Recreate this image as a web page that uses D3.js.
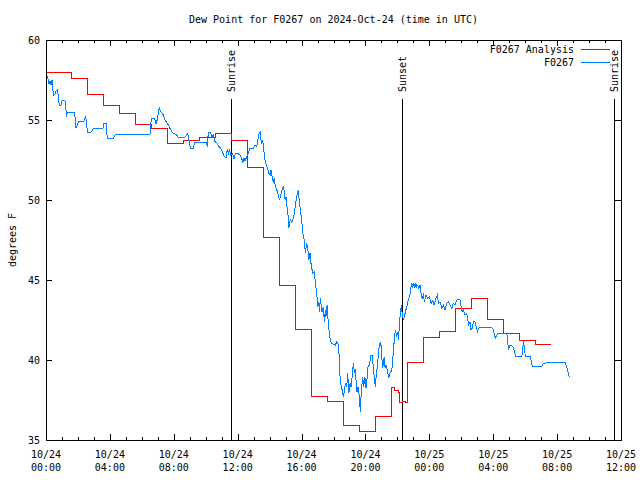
<!DOCTYPE html>
<meta charset="UTF-8">
<style>
body { margin: 0; background: #fff; }
text { font: 10px "DejaVu Sans Mono", monospace; fill: #000; }
.border { fill: none; stroke: #000; stroke-width: 1px; shape-rendering: crispEdges; }
.tick line { stroke: #000; shape-rendering: crispEdges; }
.domain { display: none; }
.obs { fill: none; stroke: #0080ff; stroke-width: 1px; shape-rendering: crispEdges; }
.ana { fill: none; stroke: #ff0000; stroke-width: 1px; shape-rendering: crispEdges; }
.sun { stroke: #000; stroke-width: 1px; shape-rendering: crispEdges; }
</style>
<body>
<script src="https://cdnjs.cloudflare.com/ajax/libs/d3/7.8.5/d3.min.js"></script>
<script>
// hours since 2024-10-24 00:00 UTC
const tickHours = [0, 4, 8, 12, 16, 20, 24, 28, 32, 36];
const tickDates = ["10/24", "10/24", "10/24", "10/24", "10/24", "10/24", "10/25", "10/25", "10/25", "10/25"];
const tickTimes = ["00:00", "04:00", "08:00", "12:00", "16:00", "20:00", "00:00", "04:00", "08:00", "12:00"];
const yTicks = [35, 40, 45, 50, 55, 60];

const sunHours = [11.57, 22.31, 35.59];
const sunLabels = ["Sunrise", "Sunset", "Sunrise"];

// analysis (hourly steps)
const anaHours = [0, 0.62, 1.62, 2.62, 3.62, 4.62, 5.62, 6.62, 7.62, 8.62, 9.62, 10.62, 11.62, 12.62,
  13.62, 14.62, 15.62, 16.62, 17.62, 18.62, 19.62, 20.62, 21.62, 21.8, 22.05, 22.15, 22.35, 22.5,
  22.62, 23.62, 24.62, 25.62, 26.62, 27.62, 28.62, 29.62, 30.62, 31.62];
const anaValues = [58.0, 57.95, 57.6, 56.6, 55.9, 55.4, 54.75, 54.5, 53.55, 53.75, 53.92, 54.17, 53.69, 52.02,
  47.67, 44.67, 41.88, 37.69, 37.38, 35.88, 35.54, 36.5, 38.29, 38.1, 37.95, 37.35, 37.42, 37.35,
  39.86, 41.42, 41.79, 43.23, 43.86, 42.56, 41.67, 41.19, 40.94, 40.94];

// station observations
const obsHours = [0.04, 0.13, 0.19, 0.25, 0.31, 0.38, 0.46, 0.56, 0.63, 0.71, 0.77, 0.83, 0.92, 1.0, 1.19,
  1.25, 1.30, 1.33, 1.80, 1.83, 1.88, 1.96, 2.02, 2.34, 2.42, 2.49, 2.55, 2.59, 2.80, 2.90, 2.96, 3.57,
  3.63, 3.76, 3.84, 4.21, 4.34, 6.51, 6.59, 6.81, 6.89, 6.97, 7.09, 7.18, 7.26, 7.35, 7.45, 7.56, 7.66,
  7.76, 7.87, 7.97, 8.18, 8.28, 8.70, 8.87, 8.97, 9.06, 9.22, 9.29, 10.06, 10.10, 10.16, 10.31, 10.39,
  10.48, 10.58, 10.69, 10.79, 10.94, 11.06, 11.15, 11.27, 11.35, 11.42, 11.48, 11.57, 11.69, 11.77,
  11.85, 12.04, 12.15, 12.25, 12.32, 12.40, 12.46, 12.57, 12.67, 12.77, 12.98, 13.09, 13.19, 13.26,
  13.34, 13.40, 13.44, 13.51, 13.57, 13.61, 13.65, 13.71, 13.82, 13.88, 13.95, 14.03, 14.09, 14.17,
  14.23, 14.30, 14.36, 14.45, 14.55, 14.61, 14.70, 14.78, 14.86, 14.92, 14.97, 15.03, 15.07, 15.14,
  15.20, 15.26, 15.32, 15.39, 15.49, 15.55, 15.64, 15.74, 15.80, 15.86, 15.95, 16.01, 16.07, 16.16,
  16.18, 16.24, 16.32, 16.39, 16.45, 16.53, 16.59, 16.66, 16.70, 16.80, 16.86, 16.95, 17.01, 17.08,
  17.11, 17.18, 17.24, 17.28, 17.36, 17.43, 17.49, 17.53, 17.60, 17.66, 17.72, 17.78, 17.85, 17.99,
  18.12, 18.20, 18.28, 18.33, 18.37, 18.41, 18.47, 18.54, 18.62, 18.68, 18.74, 18.83, 18.89, 18.96,
  19.04, 19.10, 19.16, 19.24, 19.31, 19.37, 19.41, 19.47, 19.54, 19.62, 19.68, 19.74, 19.83, 19.89,
  19.96, 20.04, 20.10, 20.16, 20.25, 20.35, 20.42, 20.50, 20.56, 20.62, 20.66, 20.75, 20.81, 20.87,
  20.96, 21.02, 21.08, 21.17, 21.23, 21.29, 21.37, 21.46, 21.54, 21.65, 21.71, 21.75, 21.81, 21.87,
  21.96, 22.02, 22.08, 22.12, 22.19, 22.25, 22.29, 22.37, 22.44, 22.50, 22.59, 22.65, 22.78, 22.84,
  22.90, 22.96, 23.03, 23.09, 23.15, 23.21, 23.28, 23.34, 23.42, 23.48, 23.55, 23.63, 23.69, 23.80,
  23.90, 24.00, 24.11, 24.22, 24.30, 24.42, 24.50, 24.57, 24.67, 24.78, 24.88, 24.98, 25.09, 25.19,
  25.30, 25.41, 25.50, 25.61, 25.72, 25.82, 25.92, 25.99, 26.05, 26.13, 26.24, 26.34, 26.41, 26.47,
  26.55, 26.61, 26.68, 26.76, 26.86, 26.93, 27.01, 27.10, 27.18, 27.91, 28.01, 28.07, 28.16, 28.22,
  28.32, 28.85, 28.91, 28.97, 29.01, 29.16, 29.26, 29.33, 29.39, 29.79, 29.85, 29.89, 29.95, 30.01,
  30.31, 30.37, 30.45, 31.04, 31.14, 31.67, 32.50, 32.56, 32.65, 32.71, 32.77];
const obsValues = [57.79, 57.54, 57.23, 57.44, 57.17, 57.5, 56.54, 56.61, 56.81, 56.88, 56.5, 55.88, 55.88, 56.19, 56.19,
  55.67, 55.21, 55.5, 55.5, 54.94, 54.52, 54.67, 54.88, 54.88, 55.04, 55.19, 54.79, 54.21, 54.21, 54.36, 54.5, 54.5,
  54.79, 54.79, 53.83, 53.83, 54.11, 54.11, 55.08, 55.08, 54.73, 55.04, 55.79, 55.52, 55.46, 55.31, 55.0, 54.83, 54.69,
  54.48, 54.27, 54.17, 54.06, 53.92, 53.92, 54.17, 53.58, 53.23, 53.23, 53.58, 53.58, 53.33, 54.21, 54.21, 53.96,
  54.06, 53.64, 53.58, 53.38, 53.23, 52.96, 52.75, 52.61, 53.17, 52.92, 53.13, 52.81, 52.88, 52.54,
  52.88, 52.88, 52.81, 52.61, 52.36, 52.61, 52.44, 52.71, 52.92, 53.23, 53.23, 53.44, 53.33, 53.75,
  54.17, 54.27, 53.86, 53.54, 53.69, 53.44, 53.02, 52.5, 52.08, 51.98, 51.67, 51.56, 51.88, 51.36,
  51.14, 51.36, 50.83, 50.63, 50.31, 50.0, 50.31, 50.63, 50.89, 50.52, 50.0, 50.21, 49.69, 49.27,
  48.23, 48.64, 48.75, 48.61, 48.86, 49.17, 49.89, 50.42, 50.63, 49.89, 49.17, 48.75, 48.02, 47.5,
  47.29, 46.67, 47.29, 46.98, 46.25, 46.67, 46.04, 45.63, 45.42, 45.52, 44.89, 44.17, 43.33, 43.64,
  43.02, 43.86, 43.33, 43.02, 43.33, 42.39, 43.13, 42.71, 43.44, 42.5, 41.88, 41.36, 41.08, 41.0,
  40.94, 41.14, 41.0, 40.83, 39.69, 38.96, 38.44, 38.13, 37.71, 38.02, 38.54, 38.33, 39.17, 37.92,
  38.54, 38.33, 38.86, 39.79, 39.27, 39.38, 38.75, 38.02, 38.33, 37.71, 36.77, 38.02, 38.96, 38.33,
  38.96, 38.23, 38.86, 39.58, 39.69, 40.31, 40.31, 39.48, 38.75, 38.33, 38.86, 39.69, 40.31, 40.94,
  41.14, 40.21, 39.48, 40.21, 39.48, 39.69, 39.38, 38.86, 39.17, 39.38, 40.0, 40.63, 41.25, 41.88,
  41.46, 41.77, 41.25, 42.29, 42.92, 43.44, 43.02, 42.5, 42.71, 43.02, 43.33, 43.64, 44.06, 44.48,
  44.79, 44.58, 44.79, 44.48, 44.79, 44.58, 44.69, 44.48, 44.69, 44.17, 43.86, 44.06, 43.64, 44.06,
  43.86, 43.96, 43.54, 43.75, 43.44, 43.86, 44.06, 43.54, 43.64, 43.23, 43.44, 43.13, 43.54, 43.64,
  43.44, 43.23, 43.54, 43.44, 43.75, 43.79, 43.75, 43.33, 43.02, 43.13, 42.81, 42.92, 42.5, 42.19,
  42.39, 41.88, 41.98, 42.39, 42.39, 42.08, 41.77, 41.98, 42.04, 42.04, 41.88, 41.56, 41.36, 41.56,
  41.67, 41.67, 41.04, 40.63, 40.88, 40.88, 40.79, 40.52, 40.25, 40.25, 40.63, 41.21, 40.73, 40.25,
  40.25, 40.0, 39.58, 39.58, 39.79, 39.85, 39.85, 39.69, 39.38, 39.17, 38.92];

const W = 640, H = 480;
const margin = {top: 40, right: 19, bottom: 40, left: 46};
const x = d3.scaleLinear().domain([0, 36]).range([margin.left, W - margin.right]);
const y = d3.scaleLinear().domain([35, 60]).range([H - margin.bottom, margin.top]);

const svg = d3.select("body").append("svg")
    .attr("width", W)
    .attr("height", H);

const minorHours = d3.range(0, 37).filter(h => h % 4 !== 0);

// ticks on all four sides, pointing inward
function xTicks(axisFn, ypos, vals, len) {
  svg.append("g")
      .attr("transform", "translate(0," + ypos + ")")
      .call(axisFn(x).tickValues(vals).tickSize(len).tickFormat(""));
}
xTicks(d3.axisBottom, y(35), tickHours, -6);
xTicks(d3.axisBottom, y(35), minorHours, -3);
xTicks(d3.axisTop, y(60), tickHours, -6);
xTicks(d3.axisTop, y(60), minorHours, -3);

svg.append("g")
    .attr("transform", "translate(" + x(0) + ",0)")
    .call(d3.axisLeft(y).tickValues(yTicks).tickSize(-6).tickFormat(""));
svg.append("g")
    .attr("transform", "translate(" + x(36) + ",0)")
    .call(d3.axisRight(y).tickValues(yTicks).tickSize(-6).tickFormat(""));

// tick labels
svg.selectAll("text.ylab")
  .data(yTicks)
  .enter().append("text")
    .attr("class", "ylab")
    .attr("x", x(0) - 6)
    .attr("y", d => y(d))
    .attr("dy", "0.35em")
    .attr("text-anchor", "end")
    .text(d => d);

const xl = svg.selectAll("text.xlab")
  .data(tickHours)
  .enter().append("text")
    .attr("class", "xlab")
    .attr("text-anchor", "middle");
xl.append("tspan")
    .attr("x", d => x(d))
    .attr("y", y(35) + 18)
    .text((d, i) => tickDates[i]);
xl.append("tspan")
    .attr("x", d => x(d))
    .attr("y", y(35) + 31)
    .text((d, i) => tickTimes[i]);

// sunrise / sunset markers
sunHours.forEach(function(h, i) {
  svg.append("line")
      .attr("class", "sun")
      .attr("x1", Math.round(x(h)) + 0.5).attr("x2", Math.round(x(h)) + 0.5)
      .attr("y1", 99).attr("y2", y(35));
  svg.append("text")
      .attr("transform", "translate(" + (x(h) + 0.5) + ",92) rotate(-90)")
      .attr("dy", "0.35em")
      .attr("text-anchor", "start")
      .text(sunLabels[i]);
});

// series
const anaLine = d3.line()
    .x((d, i) => x(anaHours[i]))
    .y(d => y(d))
    .curve(d3.curveStepAfter);
svg.append("path")
    .attr("class", "ana")
    .attr("d", anaLine(anaValues));

const obsLine = d3.line()
    .x((d, i) => x(obsHours[i]))
    .y(d => y(d));
svg.append("path")
    .attr("class", "obs")
    .attr("d", obsLine(obsValues));

// border
svg.append("rect")
    .attr("class", "border")
    .attr("x", x(0) + 0.5)
    .attr("y", y(60) + 0.5)
    .attr("width", x(36) - x(0))
    .attr("height", y(35) - y(60));

// legend
const legend = [["F0267 Analysis", "ana"], ["F0267", "obs"]];
legend.forEach(function(d, i) {
  const ly = 49.5 + i * 13;
  svg.append("text")
      .attr("x", 574)
      .attr("y", ly)
      .attr("dy", "0.35em")
      .attr("text-anchor", "end")
      .text(d[0]);
  svg.append("line")
      .attr("class", d[1])
      .attr("x1", 581).attr("x2", 610)
      .attr("y1", ly).attr("y2", ly);
});

// title and axis label
svg.append("text")
    .attr("x", (x(0) + x(36)) / 2)
    .attr("y", 19)
    .attr("dy", "0.35em")
    .attr("text-anchor", "middle")
    .text("Dew Point for F0267 on 2024-Oct-24 (time in UTC)");

svg.append("text")
    .attr("transform", "translate(12," + (H / 2) + ") rotate(-90)")
    .attr("dy", "0.35em")
    .attr("text-anchor", "middle")
    .text("degrees F");
</script>
</body>
